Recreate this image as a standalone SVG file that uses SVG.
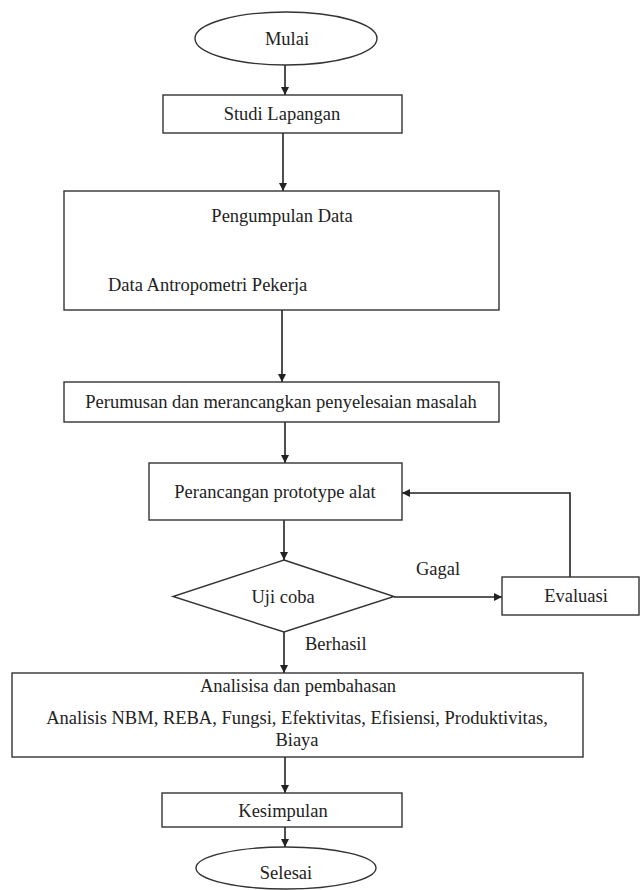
<svg xmlns="http://www.w3.org/2000/svg" width="641" height="890" viewBox="0 0 641 890">
  <style>
    .shape { fill: #ffffff; stroke: #333333; stroke-width: 1.4; }
    .conn { fill: none; stroke: #222222; stroke-width: 1.6; }
    text { font-family: "Liberation Serif", "Times New Roman", serif; font-size: 18.5px; fill: #222222; }
    .c { text-anchor: middle; }
  </style>
  <defs>
    <marker id="arrow" markerUnits="userSpaceOnUse" markerWidth="9" markerHeight="9" refX="8" refY="4.5" orient="auto">
      <path d="M0,0.5 L8,4.5 L0,8.5 z" fill="#222222"/>
    </marker>
  </defs>
  <rect x="0" y="0" width="641" height="890" fill="#ffffff"/>

  <g id="connectors">
    <line class="conn" x1="285" y1="65" x2="285" y2="95" marker-end="url(#arrow)"/>
    <line class="conn" x1="283" y1="133" x2="283" y2="191" marker-end="url(#arrow)"/>
    <line class="conn" x1="282" y1="310" x2="282" y2="382" marker-end="url(#arrow)"/>
    <line class="conn" x1="285" y1="422" x2="285" y2="463" marker-end="url(#arrow)"/>
    <line class="conn" x1="284" y1="520" x2="284" y2="560" marker-end="url(#arrow)"/>
    <line class="conn" x1="394" y1="597" x2="502" y2="597" marker-end="url(#arrow)"/>
    <polyline class="conn" points="570,577 570,493 402,493" marker-end="url(#arrow)"/>
    <line class="conn" x1="284" y1="632" x2="284" y2="673" marker-end="url(#arrow)"/>
    <line class="conn" x1="285" y1="757" x2="285" y2="793" marker-end="url(#arrow)"/>
    <line class="conn" x1="285" y1="827" x2="285" y2="847" marker-end="url(#arrow)"/>
    <text x="416" y="575">Gagal</text>
    <text x="305" y="650">Berhasil</text>
  </g>

  <g id="mulai">
    <ellipse class="shape" cx="286" cy="38.5" rx="91" ry="26.5"/>
    <text class="c" x="287" y="45">Mulai</text>
  </g>

  <g id="studi-lapangan">
    <rect class="shape" x="163" y="95" width="239" height="38"/>
    <text class="c" x="282" y="120">Studi Lapangan</text>
  </g>

  <g id="pengumpulan-data">
    <rect class="shape" x="64" y="191" width="435" height="119"/>
    <text class="c" x="282" y="222">Pengumpulan Data</text>
    <text x="108" y="291">Data Antropometri Pekerja</text>
  </g>

  <g id="perumusan">
    <rect class="shape" x="64" y="382" width="435" height="40"/>
    <text class="c" x="281" y="408">Perumusan dan merancangkan penyelesaian masalah</text>
  </g>

  <g id="perancangan">
    <rect class="shape" x="149" y="463" width="253" height="57"/>
    <text class="c" x="275" y="498">Perancangan prototype alat</text>
  </g>

  <g id="uji-coba">
    <polygon class="shape" points="284,560 394,596.5 284,632 173,596.5"/>
    <text class="c" x="283" y="603">Uji coba</text>
  </g>

  <g id="evaluasi">
    <rect class="shape" x="502" y="577" width="137" height="38"/>
    <text class="c" x="576" y="602">Evaluasi</text>
  </g>

  <g id="analisa">
    <rect class="shape" x="12" y="673" width="571" height="84"/>
    <text class="c" x="298" y="692">Analisisa dan pembahasan</text>
    <text class="c" x="297" y="724">Analisis NBM, REBA, Fungsi, Efektivitas, Efisiensi, Produktivitas,</text>
    <text class="c" x="297" y="746">Biaya</text>
  </g>

  <g id="kesimpulan">
    <rect class="shape" x="162" y="793" width="240" height="34"/>
    <text class="c" x="283" y="817">Kesimpulan</text>
  </g>

  <g id="selesai">
    <ellipse class="shape" cx="286" cy="868" rx="90" ry="21"/>
    <text class="c" x="286" y="879">Selesai</text>
  </g>
</svg>
